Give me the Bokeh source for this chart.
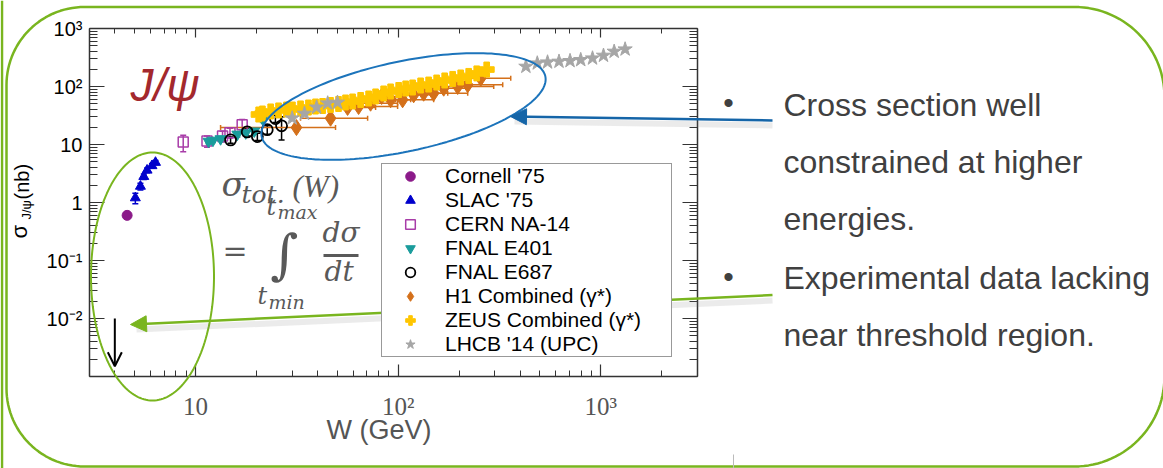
import math
from bokeh.plotting import figure
from bokeh.models import (LogAxis, FixedTicker, Label, Arrow, NormalHead, OpenHead,
                          PolyAnnotation, Legend, LegendItem, Whisker, TeeHead,
                          ColumnDataSource, Range1d)
from bokeh.embed import file_html
from bokeh.resources import INLINE

# ---------------- data ----------------
x_limits = [3, 3000]          # W (GeV)
y_limits = [1e-3, 1e3]        # sigma (nb)

x_major_ticks = [10, 100, 1000]
x_tick_labels = ["10", "10²", "10³"]
y_major_ticks = [1e-3, 1e-2, 1e-1, 1, 10, 100, 1000]
y_tick_labels = [" ", "10⁻²", "10⁻¹", "1", "10", "10²", "10³"]

cornell_W = [4.6]
cornell_sigma = [0.6]

slac_W = [5.05, 5.35, 5.56, 5.77, 6.10, 6.35]
slac_sigma = [1.2, 1.9, 2.8, 3.6, 4.3, 4.9]
slac_err = [0.25, 0.25, 0.3, 0.35, 0.4, 0.4]

cern_W = [8.7, 11.4, 13.6, 14.8, 17.0]
cern_sigma = [11.0, 11.5, 14.0, 16.0, 22.0]
cern_err = [3.5, 2.5, 3.0, 3.0, 5.0]

e401_W = [11.6, 12.2, 13.3, 16.1, 17.7, 19.5, 21.5]
e401_sigma = [11.3, 11.8, 12.5, 15.0, 15.8, 17.0, 27.0]
e401_err = [1.0, 1.0, 1.2, 1.5, 1.5, 2.0, 3.0]

e687_W = [14.9, 18.0, 20.2, 22.6, 24.8, 26.6]
e687_sigma = [12.0, 16.5, 13.7, 18.0, 28.0, 21.0]
e687_err = [1.5, 2.5, 2.0, 3.0, 4.0, 9.0]

h1_W = [31.5, 46.4, 56.3, 63.8, 73.1, 82.9, 91.8, 105.2, 119.3, 133.6, 149.7, 167.8, 196.7, 220.4, 255.6]
h1_sigma = [19.6, 28.4, 43.5, 45.2, 51.5, 67.2, 59.0, 59.0, 71.9, 76.6, 76.6, 93.5, 100.0, 107.0, 139.0]
h1_W_low = [13.3, 33.0, 46.4, 55.0, 61.7, 73.1, 81.9, 97.2, 102.9, 115.3, 129.1, 144.7, 171.6, 192.3, 228.0]
h1_W_high = [49.1, 70.7, 77.4, 99.4, 99.4, 108.9, 115.3, 149.7, 149.7, 175.6, 220.4, 222.9, 296.2, 328.1, 359.4]

zeus_W = [20.5, 21.4, 23.5, 25.7, 28.1, 30.1, 33.0, 36.1, 39.1, 42.4, 46.4, 50.8, 55.0, 59.6, 65.3,
          71.5, 77.4, 84.8, 91.8, 100.6, 108.9, 117.9, 129.1, 141.4, 154.9, 169.7, 185.8, 203.5,
          222.9, 244.2, 273.5]
zeus_sigma = [32.9, 34.2, 37.1, 38.6, 40.1, 40.1, 41.8, 43.4, 45.2, 46.1, 48.0, 49.9, 53.0, 55.1, 58.5,
              62.1, 67.3, 75.7, 82.0, 87.0, 92.4, 96.1, 104.0, 108.0, 117.0, 127.0, 135.0, 143.0,
              152.0, 168.0, 196.0]

lhcb_W = [30.0, 34.5, 39.6, 44.9, 50.2, 427, 486, 546, 622, 705, 796, 910, 1031, 1164, 1318]
lhcb_sigma = [28.4, 34.2, 43.7, 51.5, 53.0, 221, 252, 262, 270, 277, 288, 307, 342, 401, 439]

limit_W = [4.0]
limit_top = [0.01]
limit_bottom = [1.5e-3]

legend_labels = ["Cornell '75", "SLAC '75", "CERN NA-14", "FNAL E401", "FNAL E687",
                 "H1 Combined (γ*)", "ZEUS Combined (γ*)", "LHCB '14 (UPC)"]

bullet_lines_1 = ["Cross section well", "constrained at higher", "energies."]
bullet_lines_2 = ["Experimental data lacking", "near threshold region."]

# ---------------- geometry of the slide ----------------
W_FIG, H_FIG = 1163, 468
FL, FT, FW, FH = 89.0, 28.0, 608.0, 348.0      # chart box on the slide (px)
lx0, lx1 = math.log10(x_limits[0]), math.log10(x_limits[1])
ly0, ly1 = math.log10(y_limits[0]), math.log10(y_limits[1])
def dx(px):
    return 10 ** (lx0 + (px - FL) / FW * (lx1 - lx0))
def dy(py):
    return 10 ** (ly1 - (py - FT) / FH * (ly1 - ly0))

p = figure(width=W_FIG, height=H_FIG, x_axis_type="log", y_axis_type="log",
           x_range=Range1d(dx(0), dx(W_FIG)), y_range=Range1d(dy(H_FIG), dy(0)),
           output_backend="svg", toolbar_location=None,
           min_border_left=0, min_border_right=0, min_border_top=0, min_border_bottom=0)
p.grid.visible = False
p.outline_line_color = None
p.background_fill_color = "white"
p.border_fill_color = "white"

x_minor = [k * t for t in [1, 10, 100, 1000] for k in range(2, 10) if x_limits[0] <= k * t <= x_limits[1]]
y_minor = [k * t for t in y_major_ticks[:-1] for k in range(2, 10)]

AX = "#333333"
def style(ax, maj, mnr):
    ax.axis_line_color = AX
    ax.axis_line_width = 1.5
    ax.major_tick_line_color = AX
    ax.minor_tick_line_color = AX
    ax.major_tick_line_width = 1.2
    ax.minor_tick_line_width = 1.0
    ax.major_tick_in = maj
    ax.major_tick_out = 0
    ax.minor_tick_in = mnr
    ax.minor_tick_out = 0

xa = p.xaxis[0]
xa.ticker = FixedTicker(ticks=x_major_ticks, minor_ticks=x_minor)
xa.fixed_location = y_limits[0]
xa.bounds = tuple(x_limits)
style(xa, 12, 6)
xa.major_label_overrides = dict(zip(x_major_ticks, x_tick_labels))
xa.major_label_text_font = "Liberation Serif"
xa.major_label_text_font_size = "25px"
xa.major_label_text_color = "#555555"
xa.major_label_standoff = 16

ya = p.yaxis[0]
ya.ticker = FixedTicker(ticks=y_major_ticks, minor_ticks=y_minor)
ya.fixed_location = x_limits[0]
ya.bounds = tuple(y_limits)
style(ya, 15, 8)
ya.major_label_overrides = dict(zip(y_major_ticks, y_tick_labels))
ya.major_label_text_font = "Liberation Sans"
ya.major_label_text_font_size = "20px"
ya.major_label_text_color = "black"
ya.major_label_standoff = 7

top = LogAxis(ticker=FixedTicker(ticks=x_major_ticks, minor_ticks=x_minor),
              fixed_location=y_limits[1], bounds=tuple(x_limits))
style(top, 9, 5)
top.major_label_text_font_size = "2px"
top.major_label_text_alpha = 0
top.major_label_standoff = 0
p.add_layout(top, "above")
right = LogAxis(ticker=FixedTicker(ticks=y_major_ticks, minor_ticks=y_minor),
                fixed_location=x_limits[1], bounds=tuple(y_limits))
style(right, 15, 8)
right.major_label_text_font_size = "2px"
right.major_label_text_alpha = 0
right.major_label_standoff = 0
p.add_layout(right, "right")

# ---------------- error bars ----------------
def vwhisk(W, s, e, color):
    src = ColumnDataSource(dict(b=W, u=[a + c for a, c in zip(s, e)], l=[max(a - c, 1e-4) for a, c in zip(s, e)]))
    p.add_layout(Whisker(source=src, base="b", upper="u", lower="l", dimension="height",
                         line_color=color, line_width=1.5, level="underlay",
                         upper_head=TeeHead(size=6, line_color=color, line_width=1.5),
                         lower_head=TeeHead(size=6, line_color=color, line_width=1.5)))

vwhisk(slac_W, slac_sigma, slac_err, "#0000cc")
vwhisk(cern_W, cern_sigma, cern_err, "#a83ca8")
vwhisk(e401_W, e401_sigma, e401_err, "#1a9c9c")
vwhisk(e687_W, e687_sigma, e687_err, "black")
h1src = ColumnDataSource(dict(b=h1_sigma, l=h1_W_low, u=h1_W_high))
p.add_layout(Whisker(source=h1src, base="b", upper="u", lower="l", dimension="width",
                     line_color="#d4701a", line_width=1.5, level="underlay",
                     upper_head=TeeHead(size=5, line_color="#d4701a", line_width=1.5),
                     lower_head=TeeHead(size=5, line_color="#d4701a", line_width=1.5)))

# ---------------- markers ----------------
r1 = p.scatter(cornell_W, cornell_sigma, marker="circle", size=10, fill_color="#8b1a89", line_color="#8b1a89")
r2 = p.scatter(slac_W, slac_sigma, marker="triangle", size=10, fill_color="#0000cc", line_color="#0000cc")
r3 = p.scatter(cern_W, cern_sigma, marker="square", size=10, fill_color=None, line_color="#a83ca8", line_width=1.5)
r4 = p.scatter(e401_W, e401_sigma, marker="inverted_triangle", size=11, fill_color="#1a9c9c", line_color="#1a9c9c")
r5 = p.scatter(e687_W, e687_sigma, marker="circle", size=11, fill_color=None, line_color="black", line_width=1.8)
r6 = p.scatter(h1_W, h1_sigma, marker="diamond", size=16, fill_color="#d4701a", line_color="#d4701a")
r7 = p.scatter(zeus_W, zeus_sigma, marker="plus", size=15, fill_color="#ffc600", line_color="#ffc600")
r8 = p.scatter(lhcb_W, lhcb_sigma, marker="star", size=15, fill_color="#a6a6a6", line_color="#a6a6a6")

legend = Legend(items=[LegendItem(label=l, renderers=[r]) for l, r in
                       zip(legend_labels, [r1, r2, r3, r4, r5, r6, r7, r8])],
                location=(381, H_FIG - 357), orientation="vertical",
                border_line_color="#333333", border_line_width=1,
                background_fill_color="white", background_fill_alpha=1.0,
                label_text_font="Liberation Sans", label_text_font_size="21px",
                label_text_color="black", glyph_width=56, glyph_height=24,
                label_height=24, label_standoff=7, label_width=226,
                spacing=0, padding=0, margin=0)
p.add_layout(legend)

# ---------------- decorations ----------------
def poly(pts, color, width):
    p.add_layout(PolyAnnotation(xs=[dx(a) for a, b in pts], ys=[dy(b) for a, b in pts],
                                xs_units="data", ys_units="data", fill_color=None, fill_alpha=0,
                                line_color=color, line_width=width, line_alpha=1.0))

def ellipse(cx, cy, a, b, deg, n=180):
    th = math.radians(deg)
    pts = []
    for i in range(n):
        t = 2 * math.pi * i / n
        x = cx + a * math.cos(t) * math.cos(th) - b * math.sin(t) * math.sin(th)
        y = cy - (a * math.cos(t) * math.sin(th) + b * math.sin(t) * math.cos(th))
        pts.append((x, y))
    return pts

def rrect(l, t, r, b, rl, rr, n=30):
    pts = []
    def arc(cx, cy, R, a0, a1):
        for i in range(n + 1):
            a = math.radians(a0 + (a1 - a0) * i / n)
            pts.append((cx + R * math.cos(a), cy + R * math.sin(a)))
    arc(r - rr, t + rr, rr, -90, 0)
    arc(r - rr, b - rr, rr, 0, 90)
    arc(l + rl, b - rl, rl, 90, 180)
    arc(l + rl, t + rl, rl, 180, 270)
    return pts

GREEN = "#79b51f"
BLUE = "#1c74bb"

def line(x0, y0, x1, y1, color, width, alpha=1.0, head=None):
    p.add_layout(Arrow(x_start=dx(x0), y_start=dy(y0), x_end=dx(x1), y_end=dy(y1),
                       start=None, end=head, line_color=color, line_width=width, line_alpha=alpha))

poly(rrect(6, 6.5, 1164, 466, 78, 90), GREEN, 2.5)
line(1.5, 0, 1.5, 468, GREEN, 2.5)
poly(ellipse(403, 106, 145, 45, 12), BLUE, 2)
poly(ellipse(152, 276, 61.5, 124, 0), GREEN, 2)

# upper-limit arrow
p.add_layout(Arrow(x_start=limit_W[0], y_start=limit_top[0], x_end=limit_W[0], y_end=limit_bottom[0],
                   line_color="black", line_width=2,
                   end=OpenHead(size=14, line_color="black", line_width=2)))

# shadows + arrows to the text
line(772, 125, 514, 121, "#777777", 6, 0.15)
line(772, 300, 136, 329, "#777777", 6, 0.15)
line(772, 120, 510, 116, "#1565a8", 2.5,
     head=NormalHead(size=16, fill_color="#1565a8", line_color="#1565a8"))
line(772, 294.5, 130, 324, GREEN, 2.5,
     head=NormalHead(size=16, fill_color=GREEN, line_color=GREEN))
line(733, 454, 733, 468, "#bbbbbb", 1)

BASE_SHIFT = 0.4   # measured offset of the alphabetic baseline, in em

def text(px, py, s, size, color, font="Liberation Sans", style="normal", align="left",
         baseline="alphabetic", angle=0.0):
    if baseline == "alphabetic":
        if angle == 0.0:
            py = py - BASE_SHIFT * size
        else:
            px = px - BASE_SHIFT * size
    p.add_layout(Label(x=dx(px), y=dy(py), text=s, text_font=font, text_font_size=f"{size}px",
                       text_font_style=style, text_color=color, text_align=align,
                       text_baseline=baseline, angle=angle))

# axis title (x)
text(326, 440, "W (GeV)", 27, "#555555")

# J/psi title
text(130, 103, "J/ψ", 46, "#a3282d", style="italic")

# y axis label (rotated)
text(28, 238, "σ", 22, "black", angle=math.pi / 2)
text(31, 219, "J/ψ", 13, "black", angle=math.pi / 2)
text(29, 199, "(nb)", 20, "black", angle=math.pi / 2)

# equation
EQ = "#595959"
EF = "DejaVu Serif"
text(221, 197, "σ", 34, EQ, font=EF, style="italic")
text(241, 204, "tot.", 25, EQ, font=EF, style="italic")
text(292, 198, "(W)", 31, EQ, font="Liberation Serif", style="italic")
text(266, 216, "t", 24, EQ, font=EF, style="italic")
text(277, 219, "max", 19, EQ, font=EF, style="italic")
text(222, 262, "=", 30, EQ, font=EF)
text(284, 254, "∫", 54, EQ, font=EF, align="center", baseline="middle")
text(322, 243, "dσ", 28, EQ, font=EF, style="italic")
line(323, 255, 358, 255, EQ, 3)
text(324, 282, "dt", 28, EQ, font=EF, style="italic")
text(257, 305, "t", 24, EQ, font=EF, style="italic")
text(268, 309, "min", 19, EQ, font=EF, style="italic")

# bullet text
TC = "#404040"
text(728, 114, "•", 30, TC, align="center")
text(728, 288, "•", 30, TC, align="center")
for i, s in enumerate(bullet_lines_1):
    text(783, 117 + 57.3 * i, s, 32, TC)
for i, s in enumerate(bullet_lines_2):
    text(783, 290 + 57.3 * i, s, 32, TC)

open("out.html", "w").write(file_html(p, INLINE))
